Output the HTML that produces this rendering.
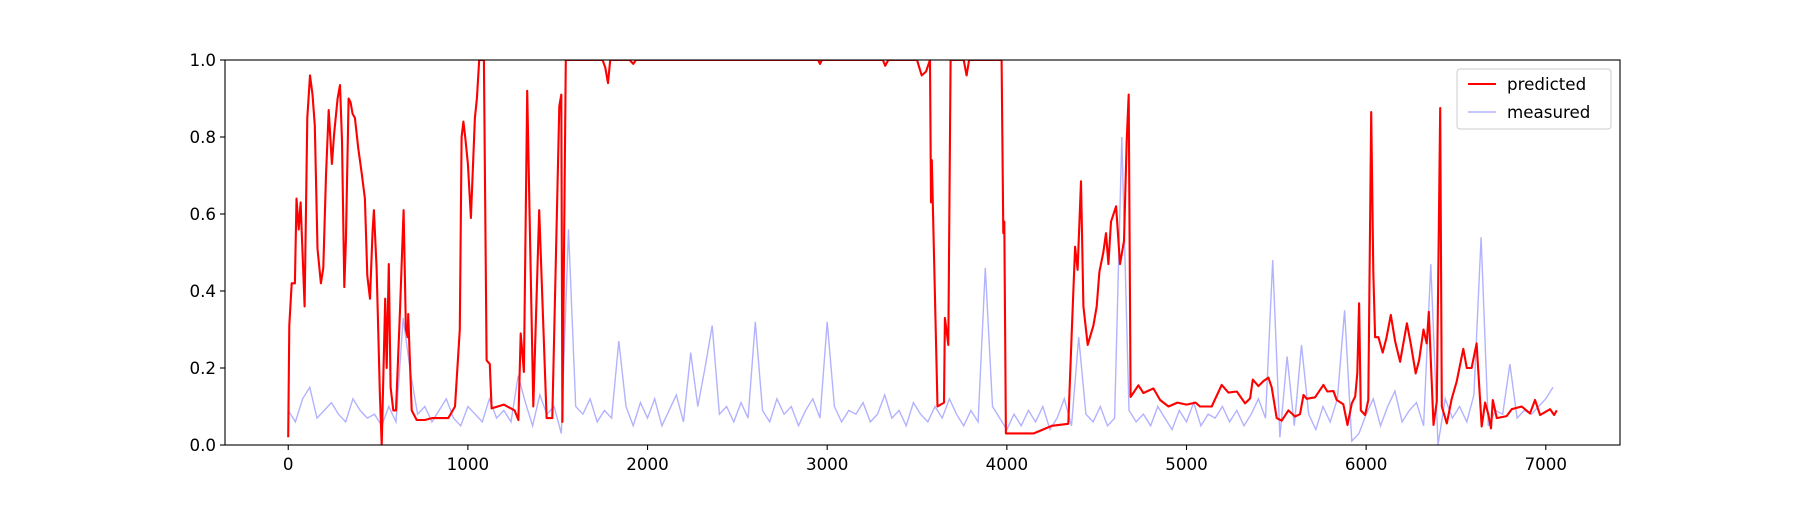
<!DOCTYPE html>
<html><head><meta charset="utf-8"><style>
body{margin:0;background:#fff}
svg text{font-family:"DejaVu Sans","Liberation Sans",sans-serif;font-size:16.7px;fill:#000}
</style></head><body>
<svg id="chart" width="1800" height="500" xmlns="http://www.w3.org/2000/svg">
<rect width="1800" height="500" fill="#fff"/>
<defs><clipPath id="clip"><rect x="225" y="60" width="1395" height="385"/></clipPath></defs>
<g id="series" clip-path="url(#clip)"></g>
<rect x="225" y="60" width="1395" height="385" fill="none" stroke="#000" stroke-width="1.1"/>
<g id="axes"></g>
<g>
<rect x="1457" y="69" width="154" height="60" rx="3" fill="#fff" fill-opacity="0.8" stroke="#ccc"/>
<line x1="1468" y1="84" x2="1496" y2="84" stroke="#f00" stroke-width="2.1"/>
<text x="1507" y="90">predicted</text>
<line x1="1468" y1="112" x2="1496" y2="112" stroke="rgba(0,0,255,0.3)" stroke-width="1.4"/>
<text x="1507" y="118">measured</text>
</g>
</svg>
<script>
const predX=[0,6,19,37,46,58,69,91,106,121,135,148,163,182,195,210,225,243,256,275,288,299,312,321,336,347,358,371,390,408,427,440,455,469,477,492,510,520,540,548,560,570,585,600,622,642,655,665,668,687,715,760,800,850,891,928,955,965,975,985,1000,1017,1039,1050,1063,1089,1104,1122,1132,1200,1260,1281,1294,1312,1330,1364,1397,1438,1470,1509,1520,1526,1545,1750,1765,1780,1792,1900,1921,1935,2500,2950,2960,2970,3310,3323,3340,3500,3526,3550,3572,3578,3582,3614,3650,3655,3674,3687,3760,3776,3790,3971,3980,3986,3995,4000,4150,4200,4250,4342,4361,4380,4394,4413,4426,4450,4482,4500,4515,4537,4552,4565,4580,4608,4630,4652,4667,4678,4689,4704,4732,4760,4816,4853,4900,4950,5000,5050,5075,5140,5196,5233,5280,5326,5354,5369,5400,5428,5456,5474,5502,5530,5567,5604,5632,5651,5669,5716,5762,5784,5818,5836,5873,5896,5920,5939,5951,5961,5970,5994,6012,6028,6040,6050,6068,6092,6114,6137,6161,6189,6227,6248,6276,6295,6319,6337,6349,6375,6393,6412,6421,6449,6476,6504,6541,6560,6587,6615,6643,6662,6680,6695,6705,6727,6782,6810,6866,6912,6940,6968,7024,7046,7061];
const predY=[0.02,0.31,0.42,0.42,0.64,0.56,0.63,0.36,0.85,0.96,0.91,0.83,0.51,0.42,0.46,0.70,0.87,0.73,0.81,0.90,0.935,0.79,0.41,0.53,0.90,0.89,0.86,0.85,0.77,0.71,0.64,0.44,0.38,0.55,0.61,0.46,0.13,0.0,0.38,0.2,0.47,0.15,0.09,0.09,0.35,0.61,0.3,0.28,0.34,0.09,0.065,0.065,0.07,0.07,0.07,0.1,0.3,0.8,0.84,0.8,0.73,0.59,0.85,0.9,1.0,1.0,0.22,0.21,0.095,0.105,0.09,0.065,0.29,0.19,0.92,0.1,0.61,0.07,0.07,0.88,0.91,0.06,1.0,1.0,0.98,0.94,1.0,1.0,0.99,1.0,1.0,1.0,0.99,1.0,1.0,0.985,1.0,1.0,0.96,0.97,1.0,0.63,0.74,0.1,0.11,0.33,0.26,1.0,1.0,0.96,1.0,1.0,0.55,0.58,0.03,0.03,0.03,0.04,0.05,0.055,0.29,0.515,0.455,0.685,0.36,0.26,0.31,0.36,0.45,0.5,0.55,0.47,0.58,0.62,0.47,0.53,0.79,0.91,0.125,0.135,0.155,0.135,0.147,0.117,0.1,0.11,0.105,0.11,0.10,0.10,0.156,0.136,0.139,0.108,0.121,0.17,0.153,0.166,0.175,0.15,0.07,0.063,0.09,0.074,0.08,0.13,0.12,0.124,0.156,0.139,0.14,0.117,0.106,0.052,0.108,0.126,0.186,0.368,0.09,0.078,0.117,0.865,0.45,0.28,0.28,0.24,0.28,0.338,0.27,0.216,0.316,0.264,0.186,0.22,0.3,0.264,0.346,0.052,0.113,0.875,0.1,0.056,0.12,0.165,0.25,0.2,0.2,0.264,0.048,0.11,0.08,0.043,0.117,0.07,0.075,0.093,0.1,0.082,0.117,0.078,0.093,0.078,0.09];
const measStep=40;
const measY=[.09,.06,.12,.15,.07,.09,.11,.08,.06,.12,
.09,.07,.08,.05,.1,.06,.33,.19,.08,.1,
.06,.09,.12,.07,.05,.1,.08,.06,.12,.07,
.09,.06,.18,.11,.05,.13,.08,.1,.03,.56,
.1,.08,.12,.06,.09,.07,.27,.1,.05,.11,
.07,.12,.05,.09,.13,.06,.24,.1,.2,.31,
.08,.1,.06,.11,.07,.32,.09,.06,.12,.08,
.1,.05,.09,.12,.07,.32,.1,.06,.09,.08,
.11,.06,.08,.13,.07,.09,.05,.11,.08,.06,
.1,.07,.12,.08,.05,.09,.06,.46,.1,.07,
.04,.08,.05,.09,.06,.1,.04,.07,.12,.05,
.28,.08,.06,.1,.05,.07,.8,.09,.06,.08,
.05,.1,.07,.04,.09,.06,.11,.05,.08,.07,
.1,.06,.09,.05,.08,.12,.07,.48,.02,.23,
.05,.26,.08,.04,.1,.06,.12,.35,.01,.03,
.08,.12,.05,.1,.14,.06,.09,.11,.05,.47,
.0,.12,.07,.1,.06,.13,.54,.05,.09,.08,
.21,.07,.09,.08,.1,.12,.15];
const xTicks=[0,1000,2000,3000,4000,5000,6000,7000];
const yTicks=[0,0.2,0.4,0.6,0.8,1.0];
const xMin=-352,xMax=7413,L=225,R=1620,T=60,B=445;
const sx=v=>L+(v-xMin)/(xMax-xMin)*(R-L);
const sy=v=>B-v*(B-T);
const NS='http://www.w3.org/2000/svg';
const ser=document.getElementById('series'),ax=document.getElementById('axes');
function mk(t,a,p){const e=document.createElementNS(NS,t);for(const k in a)e.setAttribute(k,a[k]);p.appendChild(e);return e;}
let d='';measY.forEach((v,i)=>{d+=(i?'L':'M')+sx(i*measStep).toFixed(1)+' '+sy(v).toFixed(1);});
const m=mk('path',{d:d,fill:'none',stroke:'rgba(0,0,255,0.3)','stroke-width':1.4},ser);


d='';predX.forEach((x,i)=>{d+=(i?'L':'M')+sx(x).toFixed(1)+' '+sy(predY[i]).toFixed(1);});
const p=mk('path',{d:d,fill:'none',stroke:'#f00','stroke-width':2.1,'stroke-linejoin':'round'},ser);


xTicks.forEach(t=>{const x=sx(t);
mk('line',{x1:x,y1:B,x2:x,y2:B+5,stroke:'#000','stroke-width':1.1},ax);
const tx=mk('text',{x:x,y:B+25,'text-anchor':'middle'},ax);tx.textContent=t;

});
yTicks.forEach(t=>{const y=sy(t);
mk('line',{x1:L-5,y1:y,x2:L,y2:y,stroke:'#000','stroke-width':1.1},ax);
const tx=mk('text',{x:L-9,y:y+6,'text-anchor':'end'},ax);tx.textContent=t.toFixed(1);

});
</script>
</body></html>
